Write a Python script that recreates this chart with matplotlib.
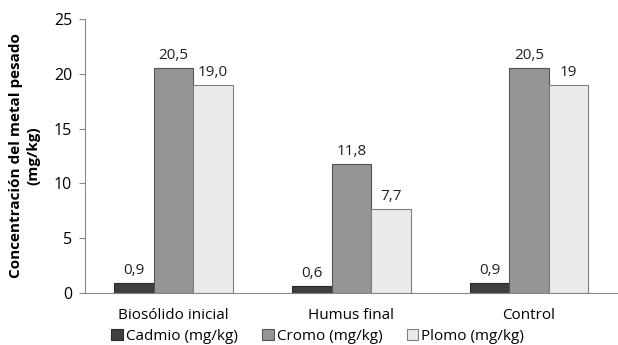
import numpy as np
import matplotlib.pyplot as plt

categories = ['Biosólido inicial', 'Humus final', 'Control']
series = ['Cadmio (mg/kg)', 'Cromo (mg/kg)', 'Plomo (mg/kg)']
cadmio = [0.9, 0.6, 0.9]
cromo = [20.5, 11.8, 20.5]
plomo = [19.0, 7.7, 19.0]
value_labels = [
    ['0,9', '0,6', '0,9'],
    ['20,5', '11,8', '20,5'],
    ['19,0', '7,7', '19'],
]
yticks = [0, 5, 10, 15, 20, 25]

plt.rcParams['font.family'] = ['Open Sans', 'DejaVu Sans']
plt.rcParams['font.size'] = 11

fig = plt.figure(figsize=(6.18, 3.45), dpi=100)
ax = fig.add_axes([0.137, 0.151, 0.863, 0.794])

colors = ['#3f3f3f', '#959595', '#ebebeb']
edges = ['#2a2a2a', '#555555', '#808080']
width = 0.222
x = np.arange(len(categories))

for i, vals in enumerate([cadmio, cromo, plomo]):
    pos = x + (i - 1) * width
    bars = ax.bar(pos, vals, width, color=colors[i], edgecolor=edges[i],
                  linewidth=0.8, label=series[i])
    for b, txt in zip(bars, value_labels[i]):
        ax.text(b.get_x() + b.get_width() / 2, b.get_height() + 0.45, txt,
                ha='center', va='bottom', fontsize=11, color='#222222')

ax.set_xlim(-0.5, 2.5)
ax.set_ylim(0, 25)
ax.set_yticks(yticks)
ax.set_xticks(x)
ax.set_xticklabels(categories)
ax.tick_params(axis='x', length=0, pad=11, labelsize=11)
ax.tick_params(axis='y', length=4, color='#888888', pad=5, labelsize=11.5)

for side in ['top', 'right']:
    ax.spines[side].set_visible(False)
for side in ['left', 'bottom']:
    ax.spines[side].set_color('#888888')

ax.set_ylabel('Concentración del metal pesado\n(mg/kg)', fontweight='bold',
              fontsize=11, labelpad=10, linespacing=1.3)

ax.legend(loc='upper center', bbox_to_anchor=(0.437, -0.108), ncol=3,
          frameon=False, handlelength=0.75, handleheight=0.75, handletextpad=0.2,
          columnspacing=1.6, fontsize=11, borderaxespad=0)

fig.savefig('out.png', dpi=100)
